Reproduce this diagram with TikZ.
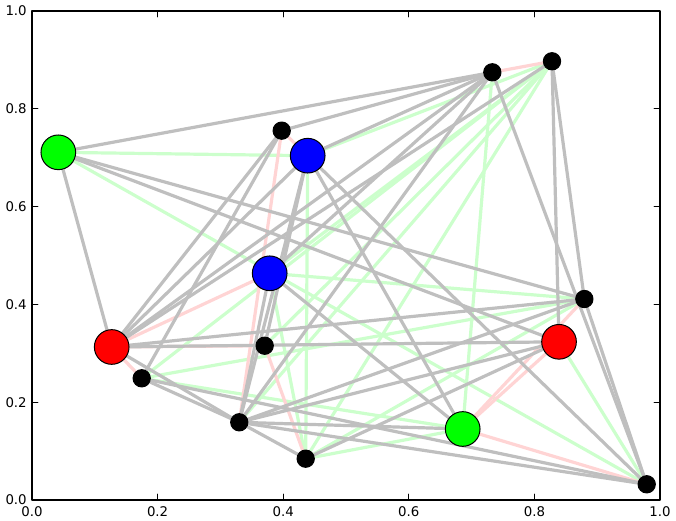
\documentclass[tikz,border=0pt]{standalone}
\usepackage{fontspec}
\setmainfont{DejaVu Sans}
\usetikzlibrary{backgrounds}
\definecolor{edgegray}{RGB}{191,191,191}
\definecolor{edgegreen}{RGB}{204,255,204}
\definecolor{edgepink}{RGB}{255,212,212}
\definecolor{nodegreen}{RGB}{0,255,0}
\definecolor{nodeblue}{RGB}{0,0,255}
\definecolor{nodered}{RGB}{255,0,0}
\tikzset{
  bignode/.style={circle,draw=black,line width=0.75pt,minimum size=26pt,inner sep=0pt},
  smallnode/.style={circle,draw=black,fill=black,line width=0.75pt,minimum size=13pt,inner sep=0pt},
  grayedge/.style={line width=2.4pt,color=edgegray},
  greenedge/.style={line width=2.4pt,color=edgegreen},
  pinkedge/.style={line width=2.4pt,color=edgepink},
  ticklabel/.style={inner sep=0pt,font=\fontsize{10}{12}\selectfont}
}
\begin{document}
\begin{tikzpicture}[line cap=round,line join=round,x=471pt,y=366.75pt]
  \useasboundingbox (-0.05096,-0.04294) rectangle (1.02548,1.02249);
  \node[bignode,fill=nodegreen] (g1) at (0.0419,0.7110) {};
  \node[bignode,fill=nodered] (r1) at (0.1269,0.3129) {};
  \node[smallnode] (k1) at (0.1747,0.2489) {};
  \node[smallnode] (k2) at (0.3301,0.1589) {};
  \node[smallnode] (k3) at (0.3705,0.3155) {};
  \node[bignode,fill=nodeblue] (b1) at (0.3785,0.4636) {};
  \node[smallnode] (k4) at (0.3976,0.7553) {};
  \node[bignode,fill=nodeblue] (b2) at (0.4390,0.7041) {};
  \node[smallnode] (k5) at (0.4358,0.0845) {};
  \node[bignode,fill=nodegreen] (g2) at (0.6858,0.1452) {};
  \node[smallnode] (k6) at (0.7330,0.8746) {};
  \node[smallnode] (k7) at (0.8280,0.8971) {};
  \node[bignode,fill=nodered] (r2) at (0.8392,0.3235) {};
  \node[smallnode] (k8) at (0.8795,0.4110) {};
  \node[smallnode] (k9) at (0.9788,0.0321) {};
  \begin{scope}[on background layer]
    \draw[greenedge] (g1) -- (b2);
    \draw[greenedge] (g1) -- (k9);
    \draw[greenedge] (k1) -- (k7);
    \draw[greenedge] (k1) -- (k8);
    \draw[greenedge] (k1) -- (g2);
    \draw[greenedge] (b1) -- (k7);
    \draw[greenedge] (b1) -- (k8);
    \draw[greenedge] (b1) -- (k5);
    \draw[greenedge] (b2) -- (k7);
    \draw[greenedge] (b2) -- (k5);
    \draw[greenedge] (k5) -- (k7);
    \draw[greenedge] (k5) -- (k8);
    \draw[greenedge] (k5) -- (g2);
    \draw[greenedge] (k6) -- (g2);
    \draw[greenedge] (r2) -- (k9);
    \draw[greenedge] (k2) -- (k7);
    \draw[greenedge] (k3) -- (k7);
    \draw[pinkedge] (k4) -- (b2);
    \draw[pinkedge] (k6) -- (k7);
    \draw[pinkedge] (r1) -- (b1);
    \draw[pinkedge] (r1) -- (k3);
    \draw[pinkedge] (r1) -- (k1);
    \draw[pinkedge] (k3) -- (k5);
    \draw[pinkedge] (k4) -- (k2);
    \draw[pinkedge] (r2) -- (g2);
    \draw[pinkedge] (k8) -- (g2);
    \draw[pinkedge] (g2) -- (k9);
    \draw[grayedge] (g1) -- (k6);
    \draw[grayedge] (g1) -- (r1);
    \draw[grayedge] (g1) -- (k8);
    \draw[grayedge] (g1) -- (r2);
    \draw[grayedge] (r1) -- (k4);
    \draw[grayedge] (r1) -- (b2);
    \draw[grayedge] (r1) -- (k6);
    \draw[grayedge] (r1) -- (k7);
    \draw[grayedge] (r1) -- (r2);
    \draw[grayedge] (r1) -- (k8);
    \draw[grayedge] (r1) -- (k2);
    \draw[grayedge] (k1) -- (k4);
    \draw[grayedge] (k1) -- (k2);
    \draw[grayedge] (k1) -- (k9);
    \draw[grayedge] (k2) -- (b1);
    \draw[grayedge] (k2) -- (b2);
    \draw[grayedge] (k2) -- (k6);
    \draw[grayedge] (k2) -- (r2);
    \draw[grayedge] (k2) -- (k8);
    \draw[grayedge] (k2) -- (g2);
    \draw[grayedge] (k2) -- (k9);
    \draw[grayedge] (k2) -- (k5);
    \draw[grayedge] (k3) -- (b2);
    \draw[grayedge] (b1) -- (k6);
    \draw[grayedge] (b1) -- (g2);
    \draw[grayedge] (k4) -- (k6);
    \draw[grayedge] (b2) -- (k6);
    \draw[grayedge] (b2) -- (g2);
    \draw[grayedge] (b2) -- (k9);
    \draw[grayedge] (k5) -- (r2);
    \draw[grayedge] (k6) -- (k9);
    \draw[grayedge] (k7) -- (k8);
    \draw[grayedge] (k7) -- (r2);
    \draw[grayedge] (k8) -- (k9);
  \end{scope}
  \draw[line width=0.8pt] (0,0) rectangle (1,1);
  \draw[line width=0.6pt] (0.2,0) -- (0.2,0.012) (0.4,0) -- (0.4,0.012) (0.6,0) -- (0.6,0.012) (0.8,0) -- (0.8,0.012);
  \draw[line width=0.6pt] (0.2,1) -- (0.2,0.988) (0.4,1) -- (0.4,0.988) (0.6,1) -- (0.6,0.988) (0.8,1) -- (0.8,0.988);
  \draw[line width=0.6pt] (0,0.2) -- (0.0096,0.2) (0,0.4) -- (0.0096,0.4) (0,0.6) -- (0.0096,0.6) (0,0.8) -- (0.0096,0.8);
  \draw[line width=0.6pt] (1,0.2) -- (0.9904,0.2) (1,0.4) -- (0.9904,0.4) (1,0.6) -- (0.9904,0.6) (1,0.8) -- (0.9904,0.8);
  \node[ticklabel] (xt0) at (0,-0.0235) {0.0};
  \node[ticklabel] (xt2) at (0.2,-0.0235) {0.2};
  \node[ticklabel] (xt4) at (0.4,-0.0235) {0.4};
  \node[ticklabel] (xt6) at (0.6,-0.0235) {0.6};
  \node[ticklabel] (xt8) at (0.8,-0.0235) {0.8};
  \node[ticklabel] (xt10) at (1,-0.0235) {1.0};
  \node[ticklabel,anchor=east] (yt0) at (-0.008,0) {0.0};
  \node[ticklabel,anchor=east] (yt2) at (-0.008,0.2) {0.2};
  \node[ticklabel,anchor=east] (yt4) at (-0.008,0.4) {0.4};
  \node[ticklabel,anchor=east] (yt6) at (-0.008,0.6) {0.6};
  \node[ticklabel,anchor=east] (yt8) at (-0.008,0.8) {0.8};
  \node[ticklabel,anchor=east] (yt10) at (-0.008,1) {1.0};
\end{tikzpicture}
\end{document}
